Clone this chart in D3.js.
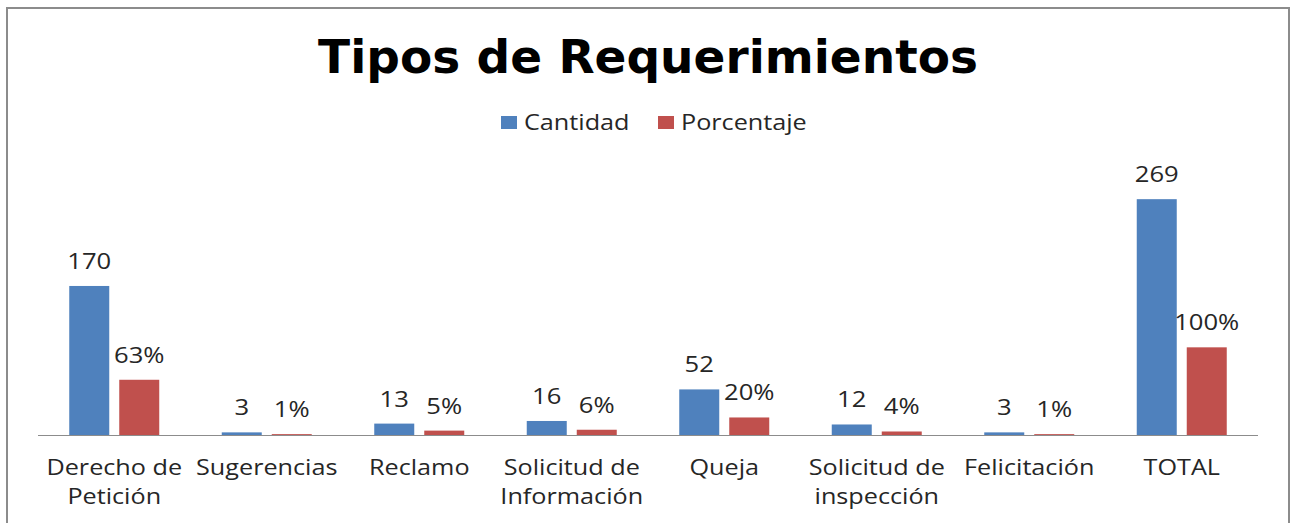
<!DOCTYPE html>
<html>
<head>
<meta charset="utf-8">
<script src="https://cdn.jsdelivr.net/npm/d3@7"></script>
<style>
  body { margin: 0; background: #fff; }
  svg { display: block; }
</style>
</head>
<body>
<svg id="chart" width="1295" height="523"></svg>
<script>
// Chart data
const categories = [
    ['Derecho de', 'Petición'],
    ['Sugerencias'],
    ['Reclamo'],
    ['Solicitud de', 'Información'],
    ['Queja'],
    ['Solicitud de', 'inspección'],
    ['Felicitación'],
    ['TOTAL']
];
const cantidad = [170, 3, 13, 16, 52, 12, 3, 269];
const porcentaje = [63, 1, 5, 6, 20, 4, 1, 100];
const seriesNames = ['Cantidad', 'Porcentaje'];
const seriesColors = ['#4f81bd', '#c0504d'];

const svg = d3.select('#chart');
const font = "'Open Sans', 'DejaVu Sans', sans-serif";

// text drawn a bit wider than the font, like the original picture
function stretchedText(parent, x, y, size, sx, anchor) {
    return parent.append('text')
        .attr('transform', `translate(${x},${y}) scale(${sx},1)`)
        .attr('text-anchor', anchor || 'middle')
        .attr('font-family', font)
        .attr('font-size', size)
        .attr('fill', '#262626');
}

// Outer border
svg.append('rect')
    .attr('x', 7).attr('y', 8)
    .attr('width', 1282).attr('height', 530)
    .attr('fill', '#fff')
    .attr('stroke', '#8c8c8c')
    .attr('stroke-width', 2);

// Title
svg.append('text')
    .attr('x', 648).attr('y', 73)
    .attr('text-anchor', 'middle')
    .attr('font-family', "'DejaVu Sans', Verdana, sans-serif")
    .attr('font-weight', 'bold')
    .attr('font-size', 47)
    .attr('fill', '#000')
    .text('Tipos de Requerimientos');

// Scales
const x0 = d3.scaleBand()
    .domain(d3.range(categories.length))
    .range([38, 1258]);
const y = d3.scaleLinear()
    .domain([0, 300])
    .range([435, 172]);

const barW = 40, gap = 10;
const series = [cantidad, porcentaje];
const barX = (i, s) => x0(i) + x0.bandwidth() / 2 - (barW + gap / 2) + s * (barW + gap);

// Bars
series.forEach((vals, s) => {
    const g = svg.append('g').attr('class', 'series-' + s);
    g.selectAll('rect')
        .data(vals)
        .enter()
        .append('rect')
        .attr('x', (d, i) => barX(i, s))
        .attr('y', d => y(d))
        .attr('width', barW)
        .attr('height', d => y(0) - y(d))
        .attr('fill', seriesColors[s]);

    vals.forEach((d, i) => {
        stretchedText(g, barX(i, s) + barW / 2, y(d) - 17, 21, 1.22)
            .text(s === 0 ? d : d + '%');
    });
});

// Baseline
svg.append('line')
    .attr('x1', 38).attr('x2', 1258)
    .attr('y1', y(0) + 0.5).attr('y2', y(0) + 0.5)
    .attr('stroke', '#8c8c8c')
    .attr('stroke-width', 1);

// Category labels
const catG = svg.append('g');
categories.forEach((lines, i) => {
    lines.forEach((ln, j) => {
        stretchedText(catG, x0(i) + x0.bandwidth() / 2, 475 + j * 29, 21, 1.2)
            .text(ln);
    });
});

// Legend
const legend = svg.append('g');
const legendX = [501, 658];
seriesNames.forEach((name, s) => {
    legend.append('rect')
        .attr('x', legendX[s]).attr('y', 116)
        .attr('width', 16).attr('height', 13)
        .attr('fill', seriesColors[s]);
    stretchedText(legend, legendX[s] + 23, 130, 21, 1.2, 'start')
        .text(name);
});
</script>
</body>
</html>
